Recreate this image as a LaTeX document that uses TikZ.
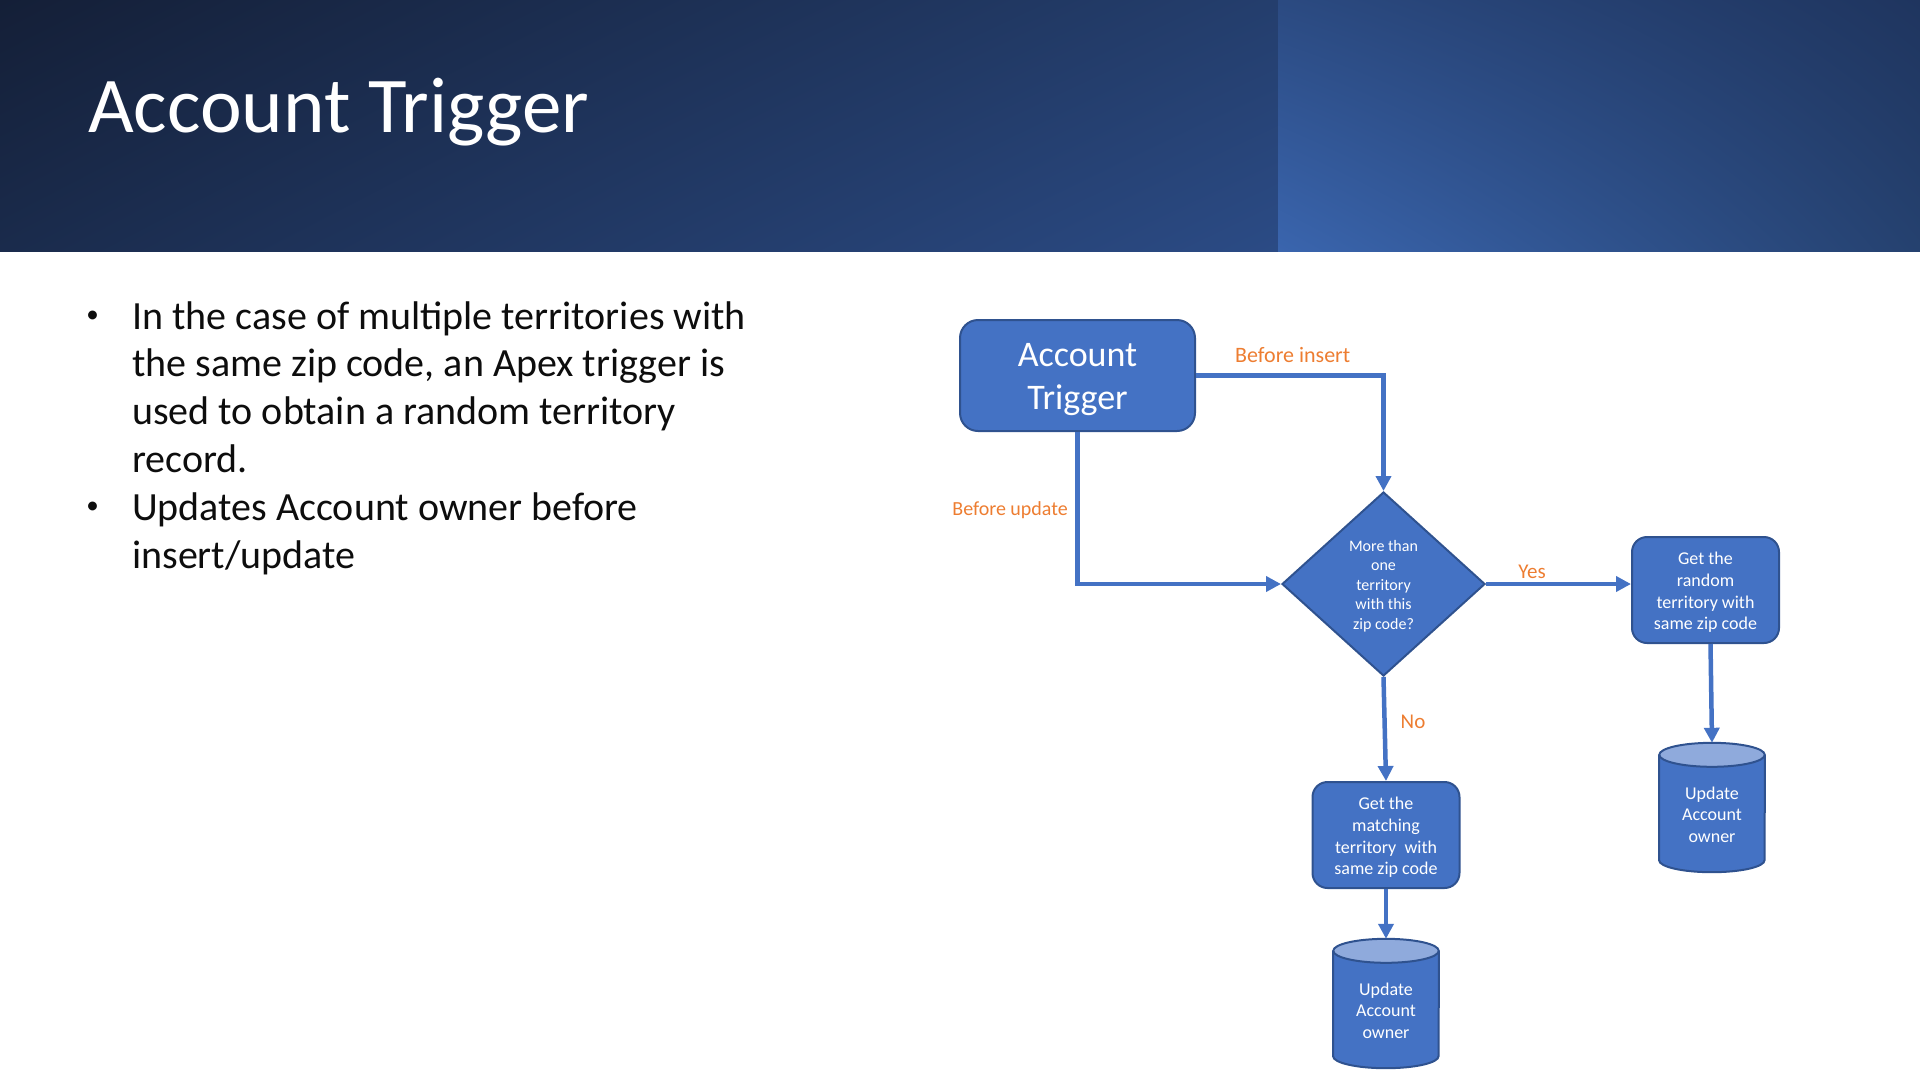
\documentclass[tikz,border=0pt]{standalone}
\usepackage{fontspec}
\setmainfont{Carlito}
\usetikzlibrary{shapes.geometric,arrows.meta,calc,shadings}

\definecolor{boxfill}{HTML}{4472C4}
\definecolor{boxline}{HTML}{2F528F}
\definecolor{cyltop}{HTML}{8FAADC}
\definecolor{lbl}{HTML}{ED7D31}
\definecolor{bodytext}{HTML}{0D0D0D}
% header band corner colours
\definecolor{hdrUL}{RGB}{20,31,55}
\definecolor{hdrUR}{RGB}{36,62,109}
\definecolor{hdrLL}{RGB}{26,43,76}
\definecolor{hdrLR}{RGB}{43,75,133}
\definecolor{panUL}{RGB}{43,74,129}
\definecolor{panUR}{RGB}{31,53,95}
\definecolor{panLL}{RGB}{58,101,174}
\definecolor{panLR}{RGB}{37,65,111}

% cylinder body and cap drawn around a sized, invisible node
\newcommand{\cylbody}[1]{%
  \fill[boxfill] ($(#1.north west)+(0,12)$) -- ($(#1.south west)+(0,-12)$)
    arc[start angle=180,end angle=360,x radius=52.75pt,y radius=12pt]
    -- ($(#1.north east)+(0,12)$) -- cycle;
  \draw[boxline,line width=2pt] ($(#1.north west)+(0,12)$) -- ($(#1.south west)+(0,-12)$)
    arc[start angle=180,end angle=360,x radius=52.75pt,y radius=12pt]
    -- ($(#1.north east)+(0,12)$);
  \draw[boxline,line width=2pt,fill=cyltop] ($(#1.north)+(0,12)$)
    ellipse[x radius=52.75pt,y radius=12pt];
}

\begin{document}
\begin{tikzpicture}[x=1pt,y=-1pt,
  procbox/.style={rectangle,rounded corners=15pt,draw=boxline,line width=2pt,
    fill=boxfill,inner sep=0pt,minimum width=147pt,minimum height=106pt},
  startbox/.style={procbox,rounded corners=18pt,minimum width=235pt,minimum height=111pt},
  decision/.style={diamond,draw=boxline,line width=2pt,fill=boxfill,
    inner sep=0pt,minimum width=203pt,minimum height=184pt},
  cylslot/.style={rectangle,draw=none,inner sep=0pt,minimum width=105.5pt,minimum height=129pt},
  boxtext/.style={text=white,align=center,inner sep=0pt,font=\fontsize{18}{21.6}\selectfont},
  bigtext/.style={boxtext,font=\fontsize{36}{43.5}\selectfont},
  smalltext/.style={boxtext,font=\fontsize{16}{19.4}\selectfont},
  flow/.style={boxfill,line width=4.5pt,-{Triangle[length=15pt,width=15pt]}},
  edgelabel/.style={text=lbl,inner sep=0pt,font=\fontsize{22}{26}\selectfont},
  bodyline/.style={text=bodytext,inner sep=0pt,anchor=base west,font=\fontsize{40}{48}\selectfont},
  bulletmark/.style={text=bodytext,inner sep=0pt,anchor=base,font=\fontsize{25}{30}\selectfont},
]
\useasboundingbox (0,0) rectangle (1920,1080);

% header band
\shade[upper left=hdrUL,upper right=hdrUR,lower left=hdrLL,lower right=hdrLR]
  (0,0) rectangle (1278,251);
\shade[upper left=panUL,upper right=panUR,lower left=panLL,lower right=panLR]
  (1278,0) rectangle (1920,251);
\node[anchor=base west,text=white,inner sep=0pt,font=\fontsize{79}{90}\selectfont]
  (title) at (88,132) {Account Trigger};

% bullet list
\node[bulletmark] (b1) at (92.5,322.5) {•};
\node[bodyline] (t1) at (132,329) {In the case of multiple territories with};
\node[bodyline] (t2) at (132,376.8) {the same zip code, an Apex trigger is};
\node[bodyline] (t3) at (132,424.6) {used to obtain a random territory};
\node[bodyline] (t4) at (132,472.4) {record.};
\node[bulletmark] (b2) at (92.5,513.7) {•};
\node[bodyline] (t5) at (132,520.2) {Updates Account owner before};
\node[bodyline] (t6) at (132,568) {insert/update};

% flowchart shapes
\node[startbox] (trig) at (1077.5,375.5) {};
\node[decision] (dec) at (1383.5,584) {};
\node[procbox] (rbox) at (1705.5,590) {};
\node[procbox] (mbox) at (1386,835) {};
\node[cylslot] (cylR) at (1712,807.5) {};
\cylbody{cylR}
\node[cylslot] (cylM) at (1386,1003.5) {};
\cylbody{cylM}

% shape texts
\node[bigtext] (trigtx) at ($(trig.center)+(0,4)$) {Account\\Trigger};
\node[smalltext] (dectx) at ($(dec.center)+(0,2)$) {More than\\one\\territory\\with this\\zip code?};
\node[boxtext] (rboxtx) at ($(rbox.center)+(0,2.5)$) {Get the\\random\\territory with\\same zip code};
\node[boxtext] (mboxtx) at ($(mbox.center)+(0,2.5)$) {Get the\\matching\\territory\ \ with\\same zip code};
\node[boxtext] (cylRtx) at ($(cylR.center)+(0,7)$) {Update\\Account\\owner};
\node[boxtext] (cylMtx) at ($(cylM.center)+(0,7)$) {Update\\Account\\owner};

% connectors
\draw[flow] (trig.east) -| (dec.north);
\draw[flow] (trig.south) |- (dec.west);
\draw[flow] (dec.east) -- (dec.east -| rbox.west);
\draw[flow] (dec.south) -- (mbox.north);
\draw[flow] ([xshift=5pt]rbox.south) -- (cylR.north);
\draw[flow] (mbox.south) -- (cylM.north);

% connector labels
\node[edgelabel,anchor=base west] (lins) at (1235,362.5) {Before insert};
\node[edgelabel,anchor=base east,font=\fontsize{20}{24}\selectfont] (lupd) at (1068,515.5) {Before update};
\node[edgelabel,anchor=base,font=\fontsize{21}{25}\selectfont] (lyes) at (1532,578) {Yes};
\node[edgelabel,anchor=base,font=\fontsize{21}{25}\selectfont] (lno) at (1413,728.6) {No};
\end{tikzpicture}
\end{document}
